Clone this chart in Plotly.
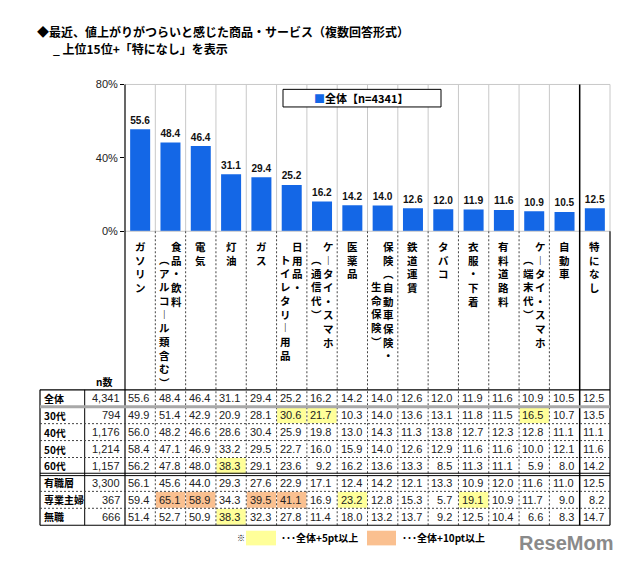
import plotly.graph_objects as go

# ---------------- data ----------------
title_line1 = "◆最近、値上がりがつらいと感じた商品・サービス（複数回答形式）"
title_line2 = "_ 上位15位+「特になし」を表示"

categories_main = ["ガソリン", "食品・飲料", "電気", "灯油", "ガス", "日用品・",
                   "ケータイ・スマホ", "医薬品", "保険（自動車保険・", "鉄道運賃",
                   "タバコ", "衣服・下着", "有料道路料", "ケータイ・スマホ", "自動車", "特になし"]
categories_sub = ["", "（アルコール類含む）", "", "", "", "トイレタリー用品",
                  "（通信代）", "", "生命保険）", "", "", "", "", "（端末代）", "", ""]

overall = [55.6, 48.4, 46.4, 31.1, 29.4, 25.2, 16.2, 14.2, 14.0, 12.6, 12.0, 11.9, 11.6, 10.9, 10.5, 12.5]

legend_name = "全体【n=4341】"
y_tick_vals = [0, 40, 80]
y_tick_text = ["0%", "40%", "80%"]

n_header = "n数"
row_labels = ["全体", "30代", "40代", "50代", "60代", "有職層", "専業主婦", "無職"]
row_n = ["4,341", "794", "1,176", "1,214", "1,157", "3,300", "367", "666"]
row_values = [
    [55.6, 48.4, 46.4, 31.1, 29.4, 25.2, 16.2, 14.2, 14.0, 12.6, 12.0, 11.9, 11.6, 10.9, 10.5, 12.5],
    [49.9, 51.4, 42.9, 20.9, 28.1, 30.6, 21.7, 10.3, 14.0, 13.6, 13.1, 11.8, 11.5, 16.5, 10.7, 13.5],
    [56.0, 48.2, 46.6, 28.6, 30.4, 25.9, 19.8, 13.0, 14.3, 11.3, 13.8, 12.7, 12.3, 12.8, 11.1, 11.1],
    [58.4, 47.1, 46.9, 33.2, 29.5, 22.7, 16.0, 15.9, 14.0, 12.6, 12.9, 11.6, 11.6, 10.0, 12.1, 11.6],
    [56.2, 47.8, 48.0, 38.3, 29.1, 23.6, 9.2, 16.2, 13.6, 13.3, 8.5, 11.3, 11.1, 5.9, 8.0, 14.2],
    [56.1, 45.6, 44.0, 29.3, 27.6, 22.9, 17.1, 12.4, 14.2, 12.1, 13.3, 10.9, 12.0, 11.6, 11.0, 12.5],
    [59.4, 65.1, 58.9, 34.3, 39.5, 41.1, 16.9, 23.2, 12.8, 15.3, 5.7, 19.1, 10.9, 11.7, 9.0, 8.2],
    [51.4, 52.7, 50.9, 38.3, 32.3, 27.8, 11.4, 18.0, 13.2, 13.7, 9.2, 12.5, 10.4, 6.6, 8.3, 14.7],
]
note_mark = "※"
note_5 = "･･･全体+5pt以上"
note_10 = "･･･全体+10pt以上"
watermark = "ReseMom"

# ---------------- styles / layout ----------------
W, H = 627, 561
PL, PR, PT, PB = 117, 602, 72, 222
TT = 384            # table top
RH = 17.3           # row height
TL, TLC = 32, 76.7  # table left, label column right
BLUE = "#1467E6"
YELLOW = "#FFFF99"
ORANGE = "#FAC090"
CJK = "Noto Sans CJK JP"
LAT = "Liberation Sans"
sub_offsets = [0, 1, 0, 0, 0, 1, 1, 0, 3, 0, 0, 0, 0, 1, 0, 0]
CH_TOP, CH_SIZE = 229, 10.5
CH_STEP = CH_SIZE * 1.3
VERT = {"ー": "︱", "（": "︵", "）": "︶"}

n = len(categories_main)
colw = (PR - PL) / n


def X(px):
    return px / W


def Y(py):
    return 1 - py / H


def col_left(i):
    return PL + i * colw


shapes = []
annotations = []


def line(x0, y0, x1, y1, color="black", width=1, dash="solid"):
    shapes.append(dict(type="line", xref="paper", yref="paper", x0=X(x0), y0=Y(y0), x1=X(x1), y1=Y(y1),
                       line=dict(color=color, width=width, dash=dash), layer="above"))


def rect(x0, y0, x1, y1, fill, lc=None):
    shapes.append(dict(type="rect", xref="paper", yref="paper", x0=X(x0), y0=Y(y0), x1=X(x1), y1=Y(y1),
                       fillcolor=fill, line=dict(color=lc or fill, width=1 if lc else 0), layer="above"))


def text(x, y, s, size=11, family=CJK, color="black", xanchor="center", yanchor="middle", bold=False):
    annotations.append(dict(xref="paper", yref="paper", x=X(x), y=Y(y), text=("<b>%s</b>" % s) if bold else s,
                            showarrow=False, xanchor=xanchor, yanchor=yanchor, align="center",
                            borderpad=0,
                            font=dict(family=family, size=size, color=color)))


def vertical(s):
    return "<br>".join(VERT.get(ch, ch) for ch in s)


# ---------------- figure ----------------
fig = go.Figure()
fig.add_trace(go.Bar(
    x=list(range(n)), y=overall, marker=dict(color=BLUE, line=dict(width=0)),
    texttemplate="%{y:.1f}", textposition="outside", cliponaxis=False,
    textfont=dict(family=LAT, size=12, color="#111", weight="bold"),
    name=legend_name, showlegend=False, hoverinfo="skip"))

# highlight cells (+5pt yellow, +10pt orange vs overall)
rows_top = [TT + r * RH for r in range(len(row_labels) + 1)]
for r, vals in enumerate(row_values):
    if r == 0:
        continue
    for i, v in enumerate(vals[:n - 1]):
        d = v - overall[i]
        if d >= 10 - 1e-9:
            rect(col_left(i) + 0.5, rows_top[r] + 0.5, col_left(i + 1) - 0.5, rows_top[r + 1] - 0.5, ORANGE)
        elif d >= 5 - 1e-9:
            rect(col_left(i) + 0.5, rows_top[r] + 0.5, col_left(i + 1) - 0.5, rows_top[r + 1] - 0.5, YELLOW)

# plot-area frame and column separators
line(PL, PT, PR, PT, "#c8c8c8")
line(PL, PB, PR, PB, "#c8c8c8")
TB = rows_top[-1]
for b in range(1, n + 1):
    x = PL + b * colw
    if b == n - 1:
        line(x, PT, x, TB, "black", 1.5)
    elif b == n:
        line(x, PT, x, PB, "#c8c8c8")
        line(x, PB, x, TB, "black", 1.2)
    else:
        line(x, PT, x, PB, "#c8c8c8")
        line(x, PB, x, TB, "#444", 1, "2px,2px")
line(PL, PT, PL, TB, "black", 1.2)

# table lines
line(TL, TT, TL, TB, "black", 1.2)
line(TLC, TT, TLC, TB, "black", 1)
line(TL, TT, PR, TT, "black", 1.2)
line(TL, rows_top[1], PR, rows_top[1], "#a8a8a8", 3)
for r in (2, 3, 4, 6, 7):
    line(TL, rows_top[r], PR, rows_top[r], "#444", 1, "2px,2px")
line(TL, rows_top[5] - 1.2, PR, rows_top[5] - 1.2, "black", 1)
line(TL, rows_top[5] + 1.2, PR, rows_top[5] + 1.2, "black", 1)
line(TL, TB, PR, TB, "black", 1.2)

# legend box
rect(275, 77, 433, 95, "white", "black")
text(354, 86, '<span style="color:%s">■</span><b>%s</b>' % (BLUE, legend_name), size=11)

# titles
text(28, 18, title_line1, size=12, xanchor="left", bold=True)
text(44, 35, title_line2, size=12, xanchor="left", bold=True)

# vertical category labels
for i in range(n):
    xc = PL + (i + 0.5) * colw
    if categories_sub[i]:
        text(xc + 6, CH_TOP, vertical(categories_main[i]), size=CH_SIZE, yanchor="top", bold=True)
        text(xc - 6, CH_TOP + sub_offsets[i] * CH_STEP, vertical(categories_sub[i]), size=CH_SIZE,
             yanchor="top", bold=True)
    else:
        text(xc, CH_TOP, vertical(categories_main[i]), size=CH_SIZE, yanchor="top", bold=True)

text(96, 376, n_header, size=10, bold=True)

# table text
for r, lab in enumerate(row_labels):
    yc = rows_top[r] + RH / 2
    text(35, yc, lab, size=10, xanchor="left", bold=True)
    text(113, yc, row_n[r], size=11, family=LAT, color="#222", xanchor="right")
    for i, v in enumerate(row_values[r]):
        text(col_left(i + 1) - 5, yc, "%.1f" % v, size=11, family=LAT, color="#222", xanchor="right")

# note legend
text(233, 535, note_mark, size=8)
rect(238, 528, 268, 543, YELLOW)
text(272, 535, note_5, size=10, xanchor="left", bold=True)
rect(359, 528, 388, 543, ORANGE)
text(393, 535, note_10, size=10, xanchor="left", bold=True)
text(558, 541, watermark, size=20, family=LAT, color="#8a8a8a", bold=True)

fig.update_layout(
    width=W, height=H, margin=dict(l=0, r=0, t=0, b=0),
    paper_bgcolor="white", plot_bgcolor="white",
    bargap=0.34, showlegend=False,
    xaxis=dict(domain=[X(PL), X(PR)], range=[-0.5, n - 0.5], showticklabels=False,
               showgrid=False, zeroline=False, showline=False, ticks="", fixedrange=True),
    yaxis=dict(domain=[Y(PB), Y(PT)], range=[0, 80], tickvals=y_tick_vals, ticktext=y_tick_text,
               ticks="outside", ticklen=4, tickcolor="black", showgrid=False, zeroline=False,
               showline=False, tickfont=dict(family=LAT, size=11, color="#222"), fixedrange=True),
    shapes=shapes, annotations=annotations,
)

fig.write_html("out.html")
